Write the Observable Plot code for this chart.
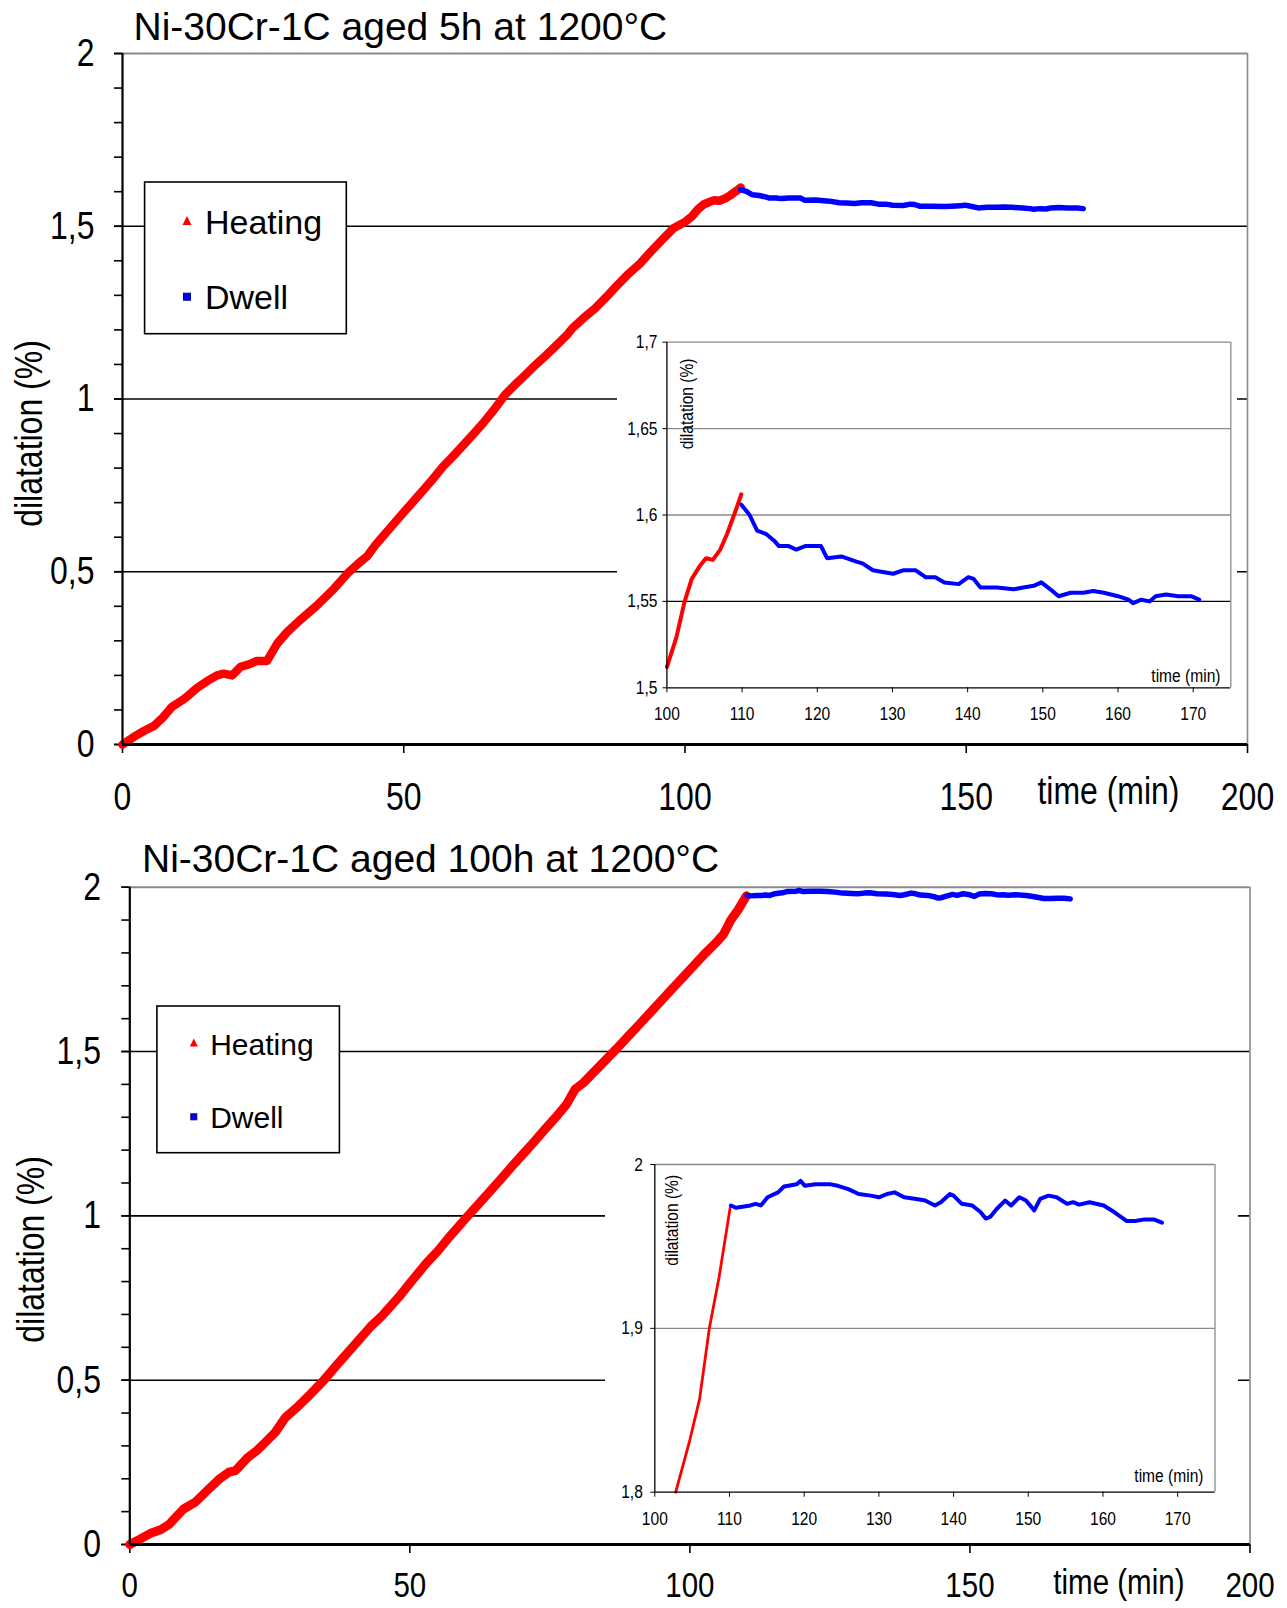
<!DOCTYPE html>
<html><head><meta charset="utf-8">
<script src="https://cdn.jsdelivr.net/npm/d3@7"></script>
<script src="https://cdn.jsdelivr.net/npm/@observablehq/plot@0.6"></script>
<style>
body{margin:0;background:#fff;}
#page{position:relative;width:1287px;height:1608px;overflow:hidden;background:#fff;}
</style></head><body><div id="page"></div><script>
// ---------- texts ----------
const title5 = "Ni-30Cr-1C aged 5h at 1200°C";
const title100 = "Ni-30Cr-1C aged 100h at 1200°C";
const xLabel = "time (min)";
const yLabel = "dilatation (%)";
const legendLabels = ["Heating", "Dwell"];
// ---------- ticks ----------
const mainXTicks = [0, 50, 100, 150, 200];
const mainYTicks = [0, 0.5, 1, 1.5, 2];
const mainYMinor = [0,0.1,0.2,0.3,0.4,0.5,0.6,0.7,0.8,0.9,1,1.1,1.2,1.3,1.4,1.5,1.6,1.7,1.8,1.9,2];
const mainGrid = [0.5, 1, 1.5];
const insetXTicks = [100, 110, 120, 130, 140, 150, 160, 170];
const inset5YTicks = [1.5, 1.55, 1.6, 1.65, 1.7];
const inset5GridGray = [1.6, 1.65];
const inset5GridBlack = [1.55];
const inset100YTicks = [1.8, 1.9, 2];
const inset100Grid = [1.9];
// ---------- data: 5h ----------
const heat5T = [0,2,3.8,5.6,7.3,8.8,10.6,11.8,13.3,15.1,16.8,18,19.5,21,22.5,23.9,25.7,27.5,29.3,31.7,34.6,37.6,40,42,43.5,45,47.5,50,52.5,55,57,58.5,60,62,64,66,68,70,71,73,75,77,79,80,82,84,86,88,90,92,94,96,98,100,101.25,102.3,103.3,104.3,105.2,106.1,107.1,108,109.1,109.9];
const heat5V = [0,0.022,0.039,0.054,0.080,0.109,0.128,0.143,0.164,0.184,0.200,0.205,0.200,0.225,0.232,0.242,0.242,0.292,0.326,0.362,0.403,0.451,0.495,0.525,0.545,0.578,0.625,0.672,0.718,0.765,0.805,0.83,0.856,0.892,0.928,0.968,1.012,1.045,1.06,1.092,1.122,1.153,1.185,1.205,1.235,1.262,1.295,1.33,1.363,1.392,1.428,1.462,1.495,1.512,1.529,1.549,1.563,1.570,1.575,1.574,1.580,1.589,1.602,1.612];
const dwell5T = [109.9,111,112,113.2,114.3,114.9,116.2,117.2,118.4,119.6,120.5,121.3,123.2,125.2,126,127.4,128.7,130.1,131.4,133.1,134.4,135.7,136.9,138.8,140.1,140.8,141.7,143.9,146.1,147.4,148.8,149.8,151,152.1,153.7,155.4,156.7,158.1,160,161.4,162,163.1,164.2,165,166.4,168,169.7,170.8];
const dwell5V = [1.606,1.600,1.591,1.589,1.585,1.582,1.582,1.580,1.582,1.582,1.582,1.575,1.576,1.573,1.572,1.568,1.567,1.566,1.568,1.568,1.564,1.564,1.561,1.560,1.564,1.563,1.558,1.558,1.557,1.558,1.559,1.561,1.557,1.553,1.555,1.555,1.556,1.555,1.553,1.551,1.549,1.551,1.550,1.553,1.554,1.553,1.553,1.551];
// ---------- data: 100h ----------
const heat100T = [0,1.9,3.7,5.5,7,8.2,9.6,11.7,13.8,15.9,17.7,18.9,21,22.7,24.5,26,27.8,29.9,31.7,34.6,37,40,43,45,48,50,53,55,57,58,60,62,64,66,68,70,72,74,76,78,79.5,81,83,85,87,89,91,93,95,97,99,101,102.8,104.7,106,107.3,108.6,110.1];
const heat100V = [0,0.017,0.034,0.045,0.061,0.083,0.108,0.129,0.164,0.198,0.220,0.225,0.264,0.286,0.316,0.342,0.387,0.418,0.448,0.499,0.547,0.605,0.663,0.695,0.752,0.795,0.857,0.893,0.935,0.954,0.993,1.031,1.069,1.107,1.146,1.184,1.222,1.261,1.299,1.34,1.385,1.405,1.44,1.475,1.51,1.547,1.583,1.62,1.657,1.694,1.73,1.767,1.80,1.832,1.857,1.90,1.931,1.974];
const dwell100T = [110.2,110.85,111.96,112.8,113.5,114.2,115.1,116.5,117.3,119,119.5,120.1,121.5,123.4,124.5,125.9,127.3,128.9,130,131.1,132.1,133.4,135,136.2,137.5,138.3,139.5,140,141.1,142.5,143.6,144.3,144.9,145.8,146.9,147.7,148.8,149.7,150.8,151.6,152.7,153.8,155.2,156,156.8,158.2,160.1,161.5,163.2,164.3,165.6,166.8,167.9];
const dwell100V = [1.975,1.9736,1.9744,1.975,1.976,1.975,1.980,1.983,1.9866,1.988,1.990,1.987,1.988,1.988,1.987,1.985,1.982,1.981,1.980,1.982,1.983,1.980,1.979,1.978,1.975,1.977,1.982,1.981,1.976,1.975,1.971,1.967,1.968,1.973,1.978,1.975,1.980,1.978,1.972,1.979,1.981,1.980,1.976,1.977,1.9755,1.977,1.975,1.971,1.9655,1.9655,1.9665,1.9665,1.9645];

const zip = (T, V) => T.map((t, i) => ({t, v: V[i]}));
const heat5 = zip(heat5T, heat5V), dwell5 = zip(dwell5T, dwell5V);
const heat100 = zip(heat100T, heat100V), dwell100 = zip(dwell100T, dwell100V);

const RED = "#ff0000", BLUE = "#0000ff", GRAY = "#8a8a8a";
const fmt = d => String(d).replace(".", ",");
const SANS = '"Liberation Sans", Arial, Helvetica, sans-serif';

function hasFont(name){
  const c = document.createElement("canvas").getContext("2d");
  const s = "time (min) dilatation 1234567890";
  c.font = "40px monospace"; const a = c.measureText(s).width;
  c.font = `40px "${name}", monospace`; const b = c.measureText(s).width;
  return Math.abs(a - b) > 0.5;
}
const NARROW = hasFont("Liberation Sans Narrow");
const AXF = NARROW ? '"Liberation Sans Narrow", "Arial Narrow", sans-serif' : SANS;
function condense(svg){
  if (NARROW) return svg;
  svg.querySelectorAll("text").forEach(t => {
    if (t.textContent.startsWith("Ni-")) return;
    const tr = t.getAttribute("transform") || "";
    const x = +t.getAttribute("x") || 0, y = +t.getAttribute("y") || 0;
    t.setAttribute("transform", `${tr} translate(${x},${y}) scale(0.82,1) translate(${-x},${-y})`);
  });
  return svg;
}

const page = document.getElementById("page");
function place(el, left, top){
  el.style.position = "absolute"; el.style.left = left + "px"; el.style.top = top + "px";
  el.style.maxWidth = "none";
  page.appendChild(el);
}

function mainChart(o){
  return Plot.plot({
    width: 1287, height: o.height,
    marginTop: o.mt, marginBottom: o.mb, marginLeft: o.ml, marginRight: o.mr,
    x: {domain: [0, 200]}, y: {domain: [0, 2]},
    style: {fontFamily: AXF, fontSize: "39px", background: "transparent", overflow: "visible", color: "black"},
    marks: [
      Plot.ruleY(mainGrid, {stroke: "black", strokeWidth: 1.6}),
      Plot.ruleY([2], {stroke: GRAY, strokeWidth: 2}),
      Plot.ruleX([200], {stroke: GRAY, strokeWidth: 1.6}),
      Plot.axisY(mainYMinor, {tickSize: 8, tickFormat: () => "", label: null, strokeWidth: 1.6}),
      Plot.axisY(mainYTicks, {tickSize: 8, tickPadding: o.ypad, tickFormat: fmt, label: null, strokeWidth: 1.6, fontSize: 39}),
      Plot.axisX(mainXTicks, {tickSize: 9, tickPadding: o.xpad, tickFormat: d => String(d), label: null, strokeWidth: 1.6, fontSize: o.xfs}),
      Plot.line(o.heat, {x: "t", y: "v", stroke: RED, strokeWidth: o.rw, strokeLinejoin: "round", strokeLinecap: "round"}),
      Plot.line(o.dwell, {x: "t", y: "v", stroke: BLUE, strokeWidth: 5.5, strokeLinejoin: "round"}),
      Plot.ruleX([0], {stroke: "black", strokeWidth: 2.2}),
      Plot.ruleY([0], {stroke: "black", strokeWidth: 3}),
      Plot.text([xLabel], {text: d => d, frameAnchor: "bottom-right", textAnchor: "end", lineAnchor: "middle", dx: o.xlDx, dy: o.xlDy, fontSize: o.xfs}),
      Plot.text([yLabel], {text: d => d, frameAnchor: "left", textAnchor: "middle", lineAnchor: "middle", rotate: -90, dx: o.ylDx, dy: o.ylDy, fontSize: 39}),
      Plot.text([o.title], {text: d => d, frameAnchor: "top-left", textAnchor: "start", lineAnchor: "middle", dx: o.tDx, dy: o.tDy, fontSize: o.tfs, fontFamily: SANS})
    ]
  });
}

function insetChart(o){
  return Plot.plot({
    width: o.w, height: o.h,
    marginTop: o.mt, marginBottom: o.mb, marginLeft: o.ml, marginRight: o.mr,
    x: {domain: [100, 175]}, y: {domain: o.yd},
    style: {fontFamily: AXF, fontSize: "19px", background: "white", overflow: "visible", color: "black"},
    marks: [
      Plot.ruleY(o.gridGray, {stroke: GRAY, strokeWidth: 1.3}),
      Plot.ruleY(o.gridBlack, {stroke: "black", strokeWidth: 1.3}),
      Plot.ruleY([o.yd[1]], {stroke: GRAY, strokeWidth: 1.3}),
      Plot.ruleX([175], {stroke: GRAY, strokeWidth: 1.3}),
      Plot.axisY(o.yt, {tickSize: 4, tickPadding: o.ypad, tickFormat: fmt, label: null, fontSize: 19}),
      Plot.axisX(insetXTicks, {tickSize: 5, tickPadding: o.xpad, tickFormat: d => String(d), label: null, fontSize: 19}),
      Plot.line(o.heat, {x: "t", y: "v", stroke: RED, strokeWidth: o.rw, strokeLinejoin: "round"}),
      Plot.line(o.dwell, {x: "t", y: "v", stroke: BLUE, strokeWidth: 4, strokeLinejoin: "round"}),
      Plot.ruleX([100], {stroke: "black", strokeWidth: 1.3}),
      Plot.ruleY([o.yd[0]], {stroke: "black", strokeWidth: 1.3}),
      Plot.text([xLabel], {text: d => d, frameAnchor: "bottom-right", textAnchor: "end", lineAnchor: "middle", dx: o.xlDx, dy: o.xlDy, fontSize: 19}),
      Plot.text([yLabel], {text: d => d, frameAnchor: "top-left", textAnchor: "middle", lineAnchor: "middle", rotate: -90, dx: o.ylDx, dy: o.ylDy, fontSize: 19})
    ]
  });
}

// top main chart
place(condense(mainChart({
  height: 820, mt: 53, mb: 76, ml: 122, mr: 40, ypad: 20, xpad: 29, xfs: 39,
  heat: heat5, dwell: dwell5, rw: 8.5,
  xlDx: -68, xlDy: 47, ylDx: -93, ylDy: 34.5,
  title: title5, tDx: 11, tDy: -26.3, tfs: 39
})), 0, 0);

// bottom main chart
place(condense(mainChart({
  height: 788, mt: 66.7, mb: 64, ml: 129.3, mr: 37.5, ypad: 20.8, xpad: 17.5, xfs: 36,
  heat: heat100, dwell: dwell100, rw: 9,
  xlDx: -65.5, xlDy: 38, ylDx: -98.5, ylDy: 33.6,
  title: title100, tDx: 12.2, tDy: -27.7, tfs: 39
})), 0, 820);

// top inset
place(condense(insetChart({
  w: 620, h: 415, mt: 21.7, mb: 47.7, ml: 49.4, mr: 6.7,
  yd: [1.5, 1.7], yt: inset5YTicks, gridGray: inset5GridGray, gridBlack: inset5GridBlack,
  ypad: 5.4, xpad: 14, rw: 4,
  heat: heat5.filter(d => d.t >= 100), dwell: dwell5,
  xlDx: -10.3, xlDy: -12.3, ylDx: 20, ylDy: 61.7
})), 617, 320);

// bottom inset
place(condense(insetChart({
  w: 633, h: 435, mt: 64, mb: 43.3, ml: 49.3, mr: 23.5,
  yd: [1.8, 2], yt: inset100YTicks, gridGray: inset100Grid, gridBlack: [],
  ypad: 8, xpad: 14.8, rw: 2.8,
  heat: heat100.filter(d => d.t >= 102.8), dwell: dwell100,
  xlDx: -11.5, xlDy: -16.7, ylDx: 17.4, ylDy: 55.8
})), 605, 1100);

// legends
const ov = d3.create("svg").attr("width", 1287).attr("height", 1608)
  .style("pointer-events", "none").attr("font-family", SANS);
function legend(g, b, tri, sq, ts, ss, tx, b1, b2, fs){
  g.append("rect").attr("x", b[0]).attr("y", b[1]).attr("width", b[2]-b[0]).attr("height", b[3]-b[1])
    .attr("fill", "white").attr("stroke", "black").attr("stroke-width", 1.6);
  g.append("path").attr("d", `M${tri[0]},${tri[1]-ts*0.55}L${tri[0]-ts/2},${tri[1]+ts*0.45}L${tri[0]+ts/2},${tri[1]+ts*0.45}Z`).attr("fill", RED);
  g.append("rect").attr("x", sq[0]-ss/2).attr("y", sq[1]-ss/2).attr("width", ss).attr("height", ss)
    .attr("fill", BLUE).attr("stroke", "#000080").attr("stroke-width", 1);
  g.append("text").attr("x", tx).attr("y", b1).attr("font-size", fs).text(legendLabels[0]);
  g.append("text").attr("x", tx).attr("y", b2).attr("font-size", fs).text(legendLabels[1]);
}
legend(ov.append("g"), [144.6, 182, 346.3, 333.7], [187, 221], [187, 296.7], 9, 7, 205, 234, 309.3, 34);
legend(ov.append("g"), [156.9, 1006, 339.4, 1152.7], [193.8, 1043], [193.8, 1116.8], 8, 6, 210.2, 1055, 1128, 30);
place(ov.node(), 0, 0);
</script></body></html>
